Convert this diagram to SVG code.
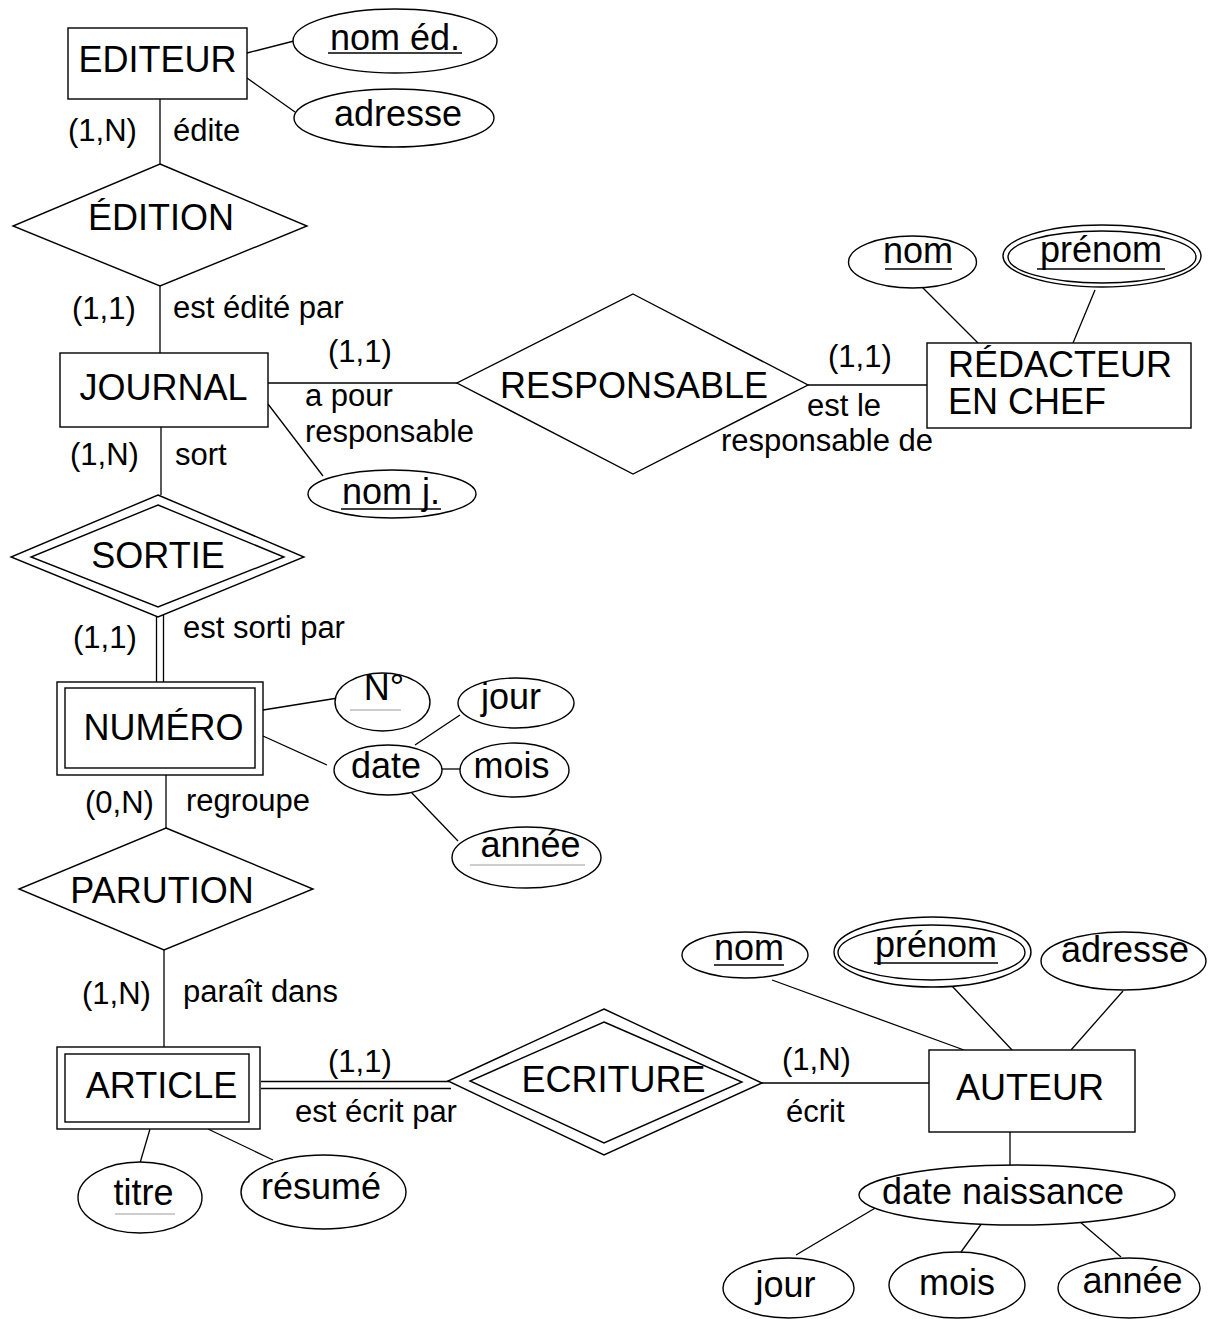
<svg xmlns="http://www.w3.org/2000/svg" width="1208" height="1319" viewBox="0 0 1208 1319">
<style>
text{font-family:"Liberation Sans",Arial,sans-serif;fill:#000}
.big{font-size:36px}
.lab{font-size:31px}
.m{text-anchor:middle}
.s{fill:#fff;stroke:#000;stroke-width:1.4}
.ln{stroke:#000;stroke-width:1.3;fill:none}
.ul{stroke:#000;stroke-width:1.6}
.gul{stroke:#bdbdbd;stroke-width:1.6}
</style>
<rect width="1208" height="1319" fill="#fff"/>
<g id="connectors">
<line class="ln" x1="247" y1="53" x2="294" y2="41"/>
<line class="ln" x1="247" y1="78" x2="295" y2="112"/>
<line class="ln" x1="160" y1="99" x2="160" y2="164"/>
<line class="ln" x1="160" y1="286" x2="160" y2="353"/>
<line class="ln" x1="268" y1="383" x2="457" y2="383"/>
<line class="ln" x1="808" y1="385" x2="927" y2="385"/>
<line class="ln" x1="922" y1="287" x2="978" y2="343"/>
<line class="ln" x1="1095" y1="290" x2="1073" y2="343"/>
<line class="ln" x1="268" y1="404" x2="323" y2="476"/>
<line class="ln" x1="161" y1="427" x2="161" y2="495"/>
<line class="ln" x1="156.5" y1="616" x2="156.5" y2="682"/>
<line class="ln" x1="163.5" y1="612" x2="163.5" y2="682"/>
<line class="ln" x1="263" y1="710" x2="338" y2="698"/>
<line class="ln" x1="263" y1="736" x2="327" y2="765"/>
<line class="ln" x1="415" y1="745" x2="460" y2="715"/>
<line class="ln" x1="442" y1="769" x2="460" y2="769"/>
<line class="ln" x1="411" y1="792" x2="458" y2="841"/>
<line class="ln" x1="166" y1="775" x2="166" y2="828"/>
<line class="ln" x1="164" y1="950" x2="164" y2="1047"/>
<line class="ln" x1="261" y1="1081.5" x2="449" y2="1081.5"/>
<line class="ln" x1="261" y1="1088.5" x2="451" y2="1088.5"/>
<line class="ln" x1="762" y1="1083" x2="929" y2="1083"/>
<line class="ln" x1="150" y1="1129" x2="140" y2="1163"/>
<line class="ln" x1="208" y1="1129" x2="273" y2="1160"/>
<line class="ln" x1="772" y1="980" x2="964" y2="1050"/>
<line class="ln" x1="952" y1="986" x2="1012" y2="1050"/>
<line class="ln" x1="1123" y1="991" x2="1071" y2="1050"/>
<line class="ln" x1="1010" y1="1132" x2="1010" y2="1165"/>
<line class="ln" x1="796" y1="1255" x2="877" y2="1207"/>
<line class="ln" x1="961" y1="1252" x2="982" y2="1223"/>
<line class="ln" x1="1121" y1="1257" x2="1079" y2="1221"/>
</g>
<g id="editeur"><rect class="s" x="68" y="28" width="179" height="71"/><text class="big m" x="157.5" y="72">EDITEUR</text></g>
<g id="nom-ed"><ellipse class="s" cx="395" cy="41" rx="102" ry="32"/><text class="big m" x="395" y="50">nom éd.</text><line class="ul" x1="328" y1="53" x2="462" y2="53"/></g>
<g id="adresse-ed"><ellipse class="s" cx="394" cy="118" rx="100" ry="29"/><text class="big m" x="398" y="126">adresse</text></g>
<g id="edition"><polygon class="s" points="160,164 307,226 160,286 13,226"/><text class="big m" x="161" y="230">ÉDITION</text></g>
<g id="lab-edition"><text class="lab" x="68" y="141">(1,N)</text><text class="lab" x="173" y="141">édite</text><text class="lab" x="72" y="319">(1,1)</text><text class="lab" x="173" y="318">est édité par</text></g>
<g id="journal"><rect class="s" x="60" y="353" width="208" height="74"/><text class="big m" x="163.5" y="400">JOURNAL</text></g>
<g id="responsable"><polygon class="s" points="633,294 808,385 633,474 457,383"/><text class="big m" x="634" y="398">RESPONSABLE</text></g>
<g id="lab-responsable"><text class="lab" x="328" y="362">(1,1)</text><text class="lab" x="305" y="406">a pour</text><text class="lab" x="305" y="442">responsable</text><text class="lab" x="828" y="367">(1,1)</text><text class="lab" x="807" y="416">est le</text><text class="lab" x="721" y="451">responsable de</text></g>
<g id="redacteur"><rect class="s" x="927" y="343" width="264" height="85"/><text class="big" x="948" y="377">RÉDACTEUR</text><text class="big" x="948" y="414">EN CHEF</text></g>
<g id="nom-red"><ellipse class="s" cx="912.5" cy="262" rx="64" ry="26"/><text class="big m" x="918" y="263">nom</text><line class="ul" x1="885" y1="269" x2="952" y2="269"/></g>
<g id="prenom-red"><ellipse class="s" cx="1102" cy="256" rx="99" ry="31"/><ellipse class="s" cx="1102" cy="257" rx="94" ry="26"/><text class="big m" x="1101" y="262">prénom</text><line class="ul" x1="1037" y1="269" x2="1165" y2="269"/></g>
<g id="nom-j"><ellipse class="s" cx="392" cy="494" rx="84" ry="24"/><text class="big m" x="391" y="504">nom j.</text><line class="ul" x1="341" y1="509" x2="441" y2="509"/></g>
<g id="lab-sortie"><text class="lab" x="70" y="465">(1,N)</text><text class="lab" x="175" y="465">sort</text><text class="lab" x="73" y="648">(1,1)</text><text class="lab" x="183" y="638">est sorti par</text></g>
<g id="sortie"><polygon class="s" points="158,495 304,557 158,617 11,557"/><polygon class="s" points="158,505 284,557 158,607 31,557"/><text class="big m" x="158" y="568">SORTIE</text></g>
<g id="numero"><rect class="s" x="57" y="682" width="206" height="93"/><rect class="s" x="65" y="688" width="190" height="80"/><text class="big m" x="163.5" y="740">NUMÉRO</text></g>
<g id="num"><ellipse class="s" cx="382.5" cy="702" rx="47.5" ry="29"/><text class="big m" x="384" y="700">N°</text><line class="gul" x1="350" y1="710" x2="401" y2="710"/></g>
<g id="date"><ellipse class="s" cx="388" cy="770" rx="54" ry="25"/><text class="big m" x="386" y="778">date</text></g>
<g id="jour-num"><ellipse class="s" cx="516" cy="703" rx="58" ry="25"/><text class="big m" x="511" y="709">jour</text></g>
<g id="mois-num"><ellipse class="s" cx="514.5" cy="770" rx="54.5" ry="27"/><text class="big m" x="511.5" y="778">mois</text></g>
<g id="annee-num"><ellipse class="s" cx="526.5" cy="857.5" rx="74.5" ry="30.5"/><text class="big m" x="530.5" y="857">année</text><line class="gul" x1="470" y1="865" x2="585" y2="865"/></g>
<g id="lab-parution"><text class="lab" x="85" y="813">(0,N)</text><text class="lab" x="186" y="811">regroupe</text><text class="lab" x="82" y="1004">(1,N)</text><text class="lab" x="183" y="1002">paraît dans</text></g>
<g id="parution"><polygon class="s" points="166,828 313,889 164,950 19,889"/><text class="big m" x="162" y="903">PARUTION</text></g>
<g id="article"><rect class="s" x="57" y="1047" width="203" height="82"/><rect class="s" x="65" y="1054" width="184" height="68"/><text class="big m" x="161.5" y="1098">ARTICLE</text></g>
<g id="titre"><ellipse class="s" cx="140" cy="1197.5" rx="62" ry="35.5"/><text class="big m" x="143.5" y="1205">titre</text><line class="gul" x1="115" y1="1214" x2="175" y2="1214"/></g>
<g id="resume"><ellipse class="s" cx="323.5" cy="1192" rx="82.5" ry="37"/><text class="big m" x="321" y="1199">résumé</text></g>
<g id="lab-ecriture"><text class="lab" x="328" y="1072">(1,1)</text><text class="lab" x="295" y="1122">est écrit par</text><text class="lab" x="782" y="1070">(1,N)</text><text class="lab" x="786" y="1122">écrit</text></g>
<g id="ecriture"><polygon class="s" points="604,1009 762,1083 604,1155 448,1081"/><polygon class="s" points="604,1022 742,1082 604,1143 470,1081"/><text class="big m" x="613.5" y="1092">ECRITURE</text></g>
<g id="auteur"><rect class="s" x="929" y="1050" width="206" height="82"/><text class="big m" x="1030" y="1100">AUTEUR</text></g>
<g id="nom-aut"><ellipse class="s" cx="745" cy="955" rx="63" ry="23"/><text class="big m" x="749" y="960">nom</text><line class="ul" x1="714" y1="965" x2="784" y2="965"/></g>
<g id="prenom-aut"><ellipse class="s" cx="932.5" cy="952" rx="98.5" ry="35"/><ellipse class="s" cx="931.5" cy="952.5" rx="93.5" ry="27.5"/><text class="big m" x="936" y="957">prénom</text><line class="ul" x1="874" y1="963" x2="998" y2="963"/></g>
<g id="adresse-aut"><ellipse class="s" cx="1123.5" cy="961" rx="82.5" ry="29"/><text class="big m" x="1125" y="962">adresse</text></g>
<g id="date-naissance"><ellipse class="s" cx="1017" cy="1195" rx="158" ry="30"/><text class="big m" x="1003" y="1204">date naissance</text></g>
<g id="jour-aut"><ellipse class="s" cx="788.5" cy="1288" rx="65.5" ry="30"/><text class="big m" x="785.5" y="1297">jour</text></g>
<g id="mois-aut"><ellipse class="s" cx="957" cy="1285" rx="68" ry="33"/><text class="big m" x="957" y="1295">mois</text></g>
<g id="annee-aut"><ellipse class="s" cx="1129" cy="1288" rx="71" ry="30"/><text class="big m" x="1132.5" y="1293">année</text></g>
</svg>
